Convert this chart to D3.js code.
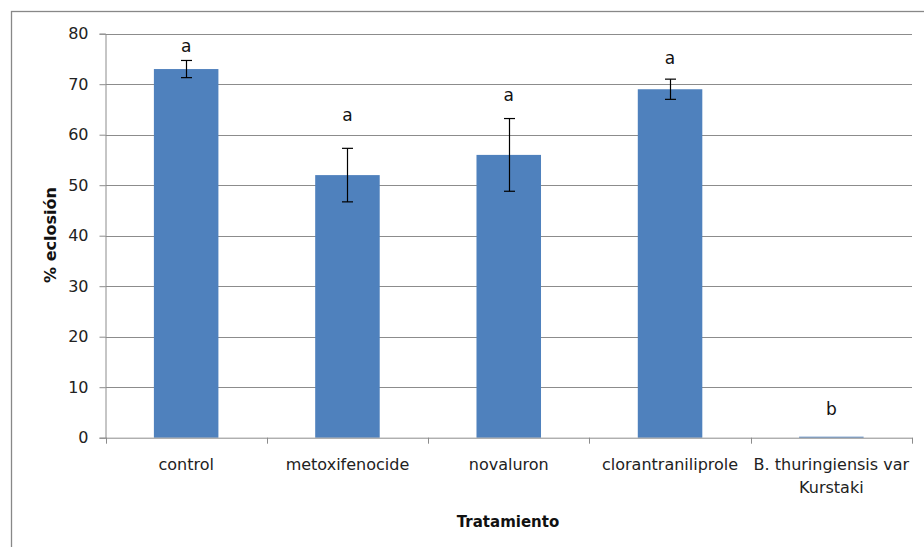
<!DOCTYPE html>
<html>
<head>
<meta charset="utf-8">
<script src="https://cdn.jsdelivr.net/npm/d3@7"></script>
<style>
  html, body { margin: 0; padding: 0; background: #fff; }
  svg { display: block; font-family: "DejaVu Sans", sans-serif; }
</style>
</head>
<body>
<svg id="chart" width="924" height="547"></svg>
<script>
// Treatments and mean egg hatch (%) with standard error
const categories = ["control", "metoxifenocide", "novaluron", "clorantraniliprole", "B. thuringiensis var Kurstaki"];
const categoryLines = [["control"], ["metoxifenocide"], ["novaluron"], ["clorantraniliprole"], ["B. thuringiensis var", "Kurstaki"]];
const hatchMeans = [73, 52, 56, 69, 0.2];
const hatchErrors = [1.7, 5.3, 7.2, 2.0, 0];
// Significance groups and the height (in % units) at which each letter sits
const groupLetters = ["a", "a", "a", "a", "b"];
const letterHeights = [76.4, 62.7, 66.7, 74.0, 4.5];
const yTicks = [0, 10, 20, 30, 40, 50, 60, 70, 80];

const svg = d3.select("#chart");
const plot = { left: 105.5, right: 912, top: 33.7, bottom: 437.7 };
const gridColor = "#8c8c8c";
const barColor = "#4f81bd";

// Chart area frame
svg.append("rect")
  .attr("x", 11.5).attr("y", 11.5)
  .attr("width", 940).attr("height", 560)
  .attr("fill", "none").attr("stroke", "#888").attr("stroke-width", 1.3);

const x = d3.scaleBand().domain(categories).range([plot.left, plot.right]).paddingInner(0.6).paddingOuter(0.3);
const xBand = d3.scaleBand().domain(categories).range([plot.left, plot.right]);
const y = d3.scaleLinear().domain([0, 80]).range([plot.bottom, plot.top]);

// Horizontal gridlines
svg.append("g").selectAll("line").data(yTicks.filter(t => t > 0)).join("line")
  .attr("x1", plot.left).attr("x2", plot.right)
  .attr("y1", d => Math.round(y(d)) + 0.5).attr("y2", d => Math.round(y(d)) + 0.5)
  .attr("stroke", gridColor).attr("stroke-width", 1);

// Y axis
const yAxis = svg.append("g")
  .attr("transform", `translate(${plot.left},0)`)
  .call(d3.axisLeft(y).tickValues(yTicks).tickSize(6).tickPadding(11));
yAxis.select(".domain").attr("stroke", gridColor);
yAxis.selectAll(".tick line").attr("stroke", gridColor);
yAxis.selectAll(".tick text").attr("font-size", 16).attr("fill", "#222")
  .attr("font-family", "DejaVu Sans, sans-serif");

// Bars
svg.append("g").selectAll("rect").data(categories).join("rect")
  .attr("x", d => x(d))
  .attr("width", x.bandwidth())
  .attr("y", (d, i) => y(hatchMeans[i]))
  .attr("height", (d, i) => y(0) - y(hatchMeans[i]))
  .attr("fill", barColor);

// X axis with ticks between categories
const xAxisG = svg.append("g").attr("transform", `translate(0,${plot.bottom})`);
xAxisG.append("line").attr("x1", plot.left).attr("x2", plot.right + 0.5)
  .attr("y1", 0.5).attr("y2", 0.5).attr("stroke", gridColor);
const boundaries = categories.map(c => xBand(c)).concat([plot.right]);
xAxisG.selectAll("line.tk").data(boundaries).join("line").attr("class", "tk")
  .attr("x1", d => Math.round(d) + 0.5).attr("x2", d => Math.round(d) + 0.5)
  .attr("y1", 0).attr("y2", 6).attr("stroke", gridColor);

// Category labels
categories.forEach((c, i) => {
  const t = svg.append("text")
    .attr("x", xBand(c) + xBand.bandwidth() / 2)
    .attr("y", 470)
    .attr("text-anchor", "middle")
    .attr("font-size", 16).attr("fill", "#222");
  categoryLines[i].forEach((line, j) => {
    t.append("tspan").attr("x", xBand(c) + xBand.bandwidth() / 2)
      .attr("dy", j === 0 ? 0 : 23).text(line);
  });
});

// Error bars
const errG = svg.append("g").attr("stroke", "#000").attr("stroke-width", 1.2);
categories.forEach((c, i) => {
  if (hatchErrors[i] <= 0) return;
  const cx = Math.round(x(c) + x.bandwidth() / 2) + 0.5;
  const hi = y(hatchMeans[i] + hatchErrors[i]);
  const lo = y(hatchMeans[i] - hatchErrors[i]);
  errG.append("line").attr("x1", cx).attr("x2", cx).attr("y1", hi).attr("y2", lo);
  errG.append("line").attr("x1", cx - 5.5).attr("x2", cx + 5.5).attr("y1", hi).attr("y2", hi);
  errG.append("line").attr("x1", cx - 5.5).attr("x2", cx + 5.5).attr("y1", lo).attr("y2", lo);
});

// Significance letters
svg.append("g").selectAll("text").data(categories).join("text")
  .attr("x", d => x(d) + x.bandwidth() / 2)
  .attr("y", (d, i) => y(letterHeights[i]))
  .attr("text-anchor", "middle")
  .attr("font-size", 17).attr("fill", "#111")
  .text((d, i) => groupLetters[i]);

// Axis titles
svg.append("text")
  .attr("transform", "translate(55.5,235) rotate(-90)")
  .attr("text-anchor", "middle")
  .attr("font-size", 16).attr("font-weight", "bold").attr("fill", "#111")
  .text("%  eclosión");

svg.append("text")
  .attr("x", 508).attr("y", 527)
  .attr("text-anchor", "middle")
  .attr("font-size", 15).attr("font-weight", "bold").attr("fill", "#111")
  .text("Tratamiento");
</script>
</body>
</html>
